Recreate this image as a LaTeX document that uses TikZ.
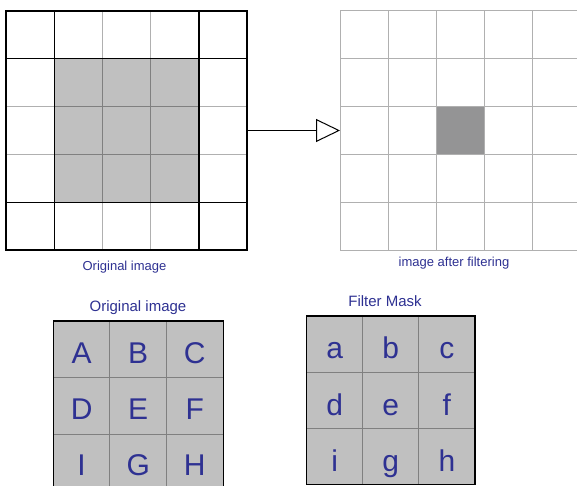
\documentclass[tikz,border=0pt]{standalone}
\usepackage{fontspec}
\setmainfont{Liberation Sans}
\usetikzlibrary{arrows.meta}
\definecolor{txtblue}{RGB}{46,49,146}
\definecolor{cellfill}{RGB}{192,192,192}
\definecolor{darkcell}{RGB}{148,148,149}
\definecolor{lightline}{RGB}{176,176,176}
\definecolor{midline}{RGB}{128,128,128}
\begin{document}
\begin{tikzpicture}[x=1pt,y=-1pt,
  blackline/.style={draw=black,line width=1.05pt},
  lightgrid/.style={draw=lightline,line width=1pt},
  midgrid/.style={draw=midline,line width=1pt},
  smalllabel/.style={text=txtblue,font=\fontsize{13}{15}\selectfont,anchor=base,inner sep=0pt},
  titlelabel/.style={text=txtblue,font=\fontsize{15}{17}\selectfont,anchor=base,inner sep=0pt},
  letter/.style={text=txtblue,font=\fontsize{30}{34}\selectfont,anchor=base,inner sep=0pt},
  gridbox/.style={inner sep=0pt,outer sep=0pt}]
\clip (0,0) rectangle (577,486);
\fill[white] (0,0) rectangle (577,486);

% ---------- top-left grid ----------
\node[gridbox,minimum width=241pt,minimum height=239pt] (G1) at (126.5,130.5) {};
\fill[cellfill] (54.25,58.8) rectangle (199,202.2);
\foreach \x in {102.5,150.75} \draw[lightgrid] (\x,11) -- (\x,250);
\foreach \y in {106.6,154.4} \draw[lightgrid] (6,\y) -- (247,\y);
\foreach \x in {102.5,150.75} \draw[midgrid] (\x,58.8) -- (\x,202.2);
\foreach \y in {106.6,154.4} \draw[midgrid] (54.25,\y) -- (199,\y);
\foreach \x in {54.25,199} \draw[blackline] (\x,11) -- (\x,250);
\foreach \y in {58.8,202.2} \draw[blackline] (6,\y) -- (247,\y);
\draw[blackline] (6,11) rectangle (247,250);

% ---------- top-right grid ----------
\node[gridbox,minimum width=241pt,minimum height=239pt] (G2) at (460.5,130.5) {};
\fill[darkcell] (436.4,106.6) rectangle (484.6,154.4);
\foreach \x in {388.2,436.4,484.6,532.8} \draw[lightgrid] (\x,11) -- (\x,250);
\foreach \y in {58.8,106.6,154.4,202.2} \draw[lightgrid] (340,\y) -- (581,\y);
\draw[lightgrid] (340,11) rectangle (581,250);

% ---------- arrow ----------
\draw[line width=1pt,-{Triangle[open,length=24pt,width=23pt,line width=1pt]}] (G1.east) -- (G2.west);

% ---------- labels under top grids ----------
\node[smalllabel] (L1) at (124.5,270.5) {Original image};
\node[smalllabel] (L2) at (454,266) {image after filtering};

% ---------- bottom-left grid ----------
\node[titlelabel] (T1) at (138,311.5) {Original image};
\fill[cellfill] (53.3,321) rectangle (223.1,490.8);
\foreach \x in {109.9,166.5} \draw[midgrid] (\x,321) -- (\x,490.8);
\foreach \y in {377.6,434.2} \draw[midgrid] (53.3,\y) -- (223.1,\y);
\draw[blackline] (53.3,321) rectangle (223.1,490.8);
\node[letter] (A) at (81.6,363.3) {A};
\node[letter] (B) at (138.2,363.3) {B};
\node[letter] (C) at (194.8,363.3) {C};
\node[letter] (D) at (81.6,419.9) {D};
\node[letter] (E) at (138.2,419.9) {E};
\node[letter] (F) at (194.8,419.9) {F};
\node[letter] (I) at (81.6,475.5) {I};
\node[letter] (G) at (138.2,475.5) {G};
\node[letter] (H) at (194.8,475.5) {H};

% ---------- bottom-right grid ----------
\node[titlelabel] (T2) at (385,306) {Filter Mask};
\fill[cellfill] (306.7,316) rectangle (475,484.5);
\foreach \x in {362.8,418.9} \draw[midgrid] (\x,316) -- (\x,484.5);
\foreach \y in {372.2,428.4} \draw[midgrid] (306.7,\y) -- (475,\y);
\draw[blackline] (306.7,316) rectangle (475,484.5);
\node[letter] (a) at (334.7,358.3) {a};
\node[letter] (b) at (390.8,358.3) {b};
\node[letter] (c) at (446.9,358.3) {c};
\node[letter] (d) at (334.7,415) {d};
\node[letter] (e) at (390.8,415) {e};
\node[letter] (f) at (446.9,415) {f};
\node[letter] (i) at (334.7,471.5) {i};
\node[letter] (g) at (390.8,471.5) {g};
\node[letter] (h) at (446.9,471.5) {h};
\end{tikzpicture}
\end{document}
